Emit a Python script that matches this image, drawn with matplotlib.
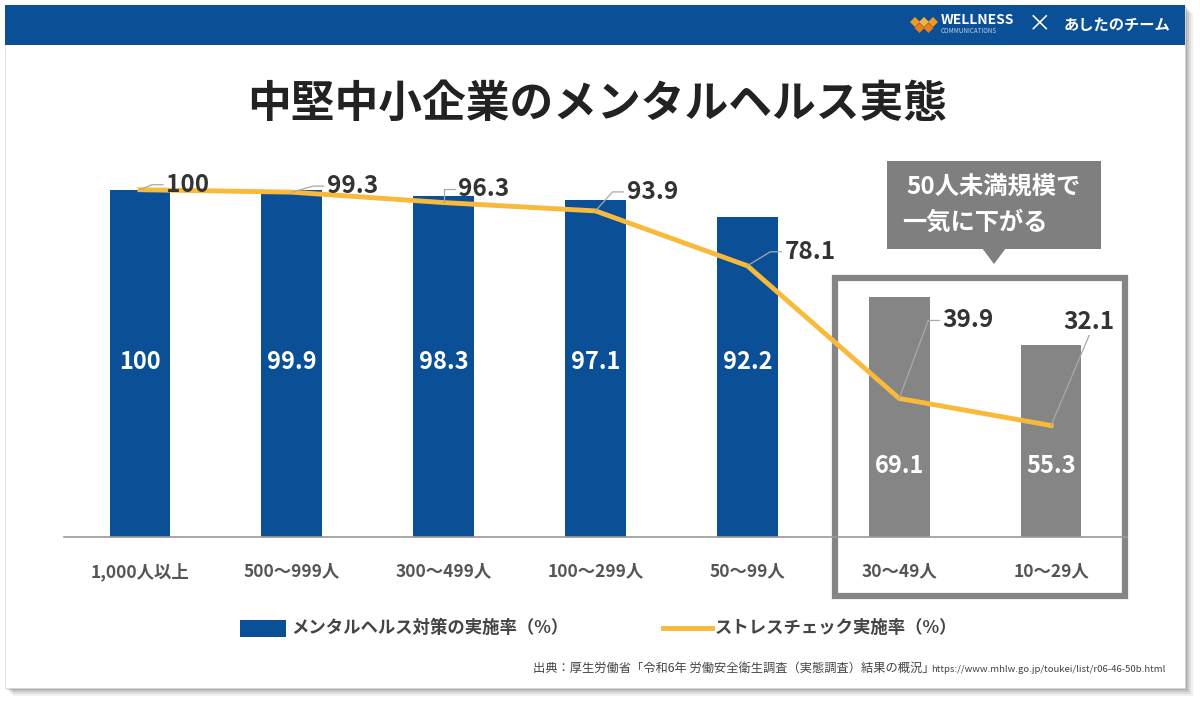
import matplotlib
matplotlib.use("Agg")
import matplotlib.pyplot as plt
from matplotlib.patches import Rectangle, Polygon
from matplotlib.lines import Line2D
from matplotlib.transforms import IdentityTransform

plt.rcParams['font.family'] = ['Noto Sans CJK JP', 'DejaVu Sans']

categories = ['1,000人以上', '500～999人', '300～499人', '100～299人', '50～99人', '30～49人', '10～29人']
mental = [100, 99.9, 98.3, 97.1, 92.2, 69.1, 55.3]
stress = [100, 99.3, 96.3, 93.9, 78.1, 39.9, 32.1]
mental_labels = ['100', '99.9', '98.3', '97.1', '92.2', '69.1', '55.3']
stress_labels = ['100', '99.3', '96.3', '93.9', '78.1', '39.9', '32.1']
n_large = 5  # 50人以上 (blue); the rest are grey

BLUE = '#0b5096'
GRAY = '#858585'
ORANGE = '#f9b93a'
HEADER = '#0b4f96'

W, H = 1200, 704
fig = plt.figure(figsize=(12, 7.04), dpi=100)
fig.patch.set_facecolor('white')

def px(x, y):
    # pixel (top-left origin) -> figure fraction
    return x / W, 1 - y / H

def frect(x0, y0, x1, y1, **kw):
    fx0, fy1 = px(x0, y1)
    r = Rectangle((fx0, fy1), (x1 - x0) / W, (y1 - y0) / H, transform=fig.transFigure, **kw)
    fig.add_artist(r)
    return r

# card shadow + card
for k, a in enumerate([0.06, 0.08, 0.10, 0.14]):
    d = 8 - 2 * k
    frect(5 + d, 5 + d, 1185 + d, 688 + d, facecolor='black', alpha=a, edgecolor='none', zorder=0)
frect(5, 5, 1185, 688, facecolor='white', edgecolor='#d8d8d8', lw=0.5, zorder=1)
frect(5, 5, 1185, 45, facecolor=HEADER, edgecolor='none', zorder=2)

# header logos
for dx, dy, c in [(0, 0, '#f39a1e'), (9, 0, '#f4b43c'), (18, 0, '#f39a1e'), (4.5, 6, '#ee7d18'), (13.5, 6, '#ee7d18')]:
    cx, cy = 915 + dx, 22 + dy
    fig.add_artist(Polygon([px(cx - 5, cy), px(cx, cy - 5), px(cx + 5, cy), px(cx, cy + 5)],
                           closed=True, transform=fig.transFigure, facecolor=c, edgecolor='none', zorder=3))
fig.text(*px(941, 20), 'WELLNESS', fontsize=10, fontweight='bold', color='white', va='center', ha='left', zorder=4)
fig.text(*px(941, 31), 'COMMUNICATIONS', fontsize=4.5, color='#b9d3ee', va='center', ha='left', zorder=4)
fig.text(*px(1040, 25), '×', fontsize=17, color='white', va='center', ha='center', zorder=4)
fig.text(*px(1064, 25), 'あしたのチーム', fontsize=11, fontweight='bold', style='italic',
         color='white', va='center', ha='left', zorder=4)

# title
fig.text(*px(597, 104), '中堅中小企業のメンタルヘルス実態', fontsize=31.5, fontweight='bold',
         color='#222222', ha='center', va='center', zorder=4)

# chart axes: x pixels 64..1127, y pixels 537 (0) .. 155 (110)
ax = fig.add_axes([64 / W, 1 - 537 / H, 1063 / W, 382 / H])
ax.set_xlim(-0.5, 6.5)
ax.set_ylim(0, 110)
ax.set_zorder(5)
ax.patch.set_alpha(0)
for s in ['top', 'right', 'left']:
    ax.spines[s].set_visible(False)
ax.spines['bottom'].set_color('#9a9a9a')
ax.spines['bottom'].set_linewidth(1.2)
ax.set_yticks([])
ax.set_xticks(range(len(categories)))
ax.set_xticklabels(categories, fontsize=12.5, fontweight='bold', color='#555555')
ax.tick_params(axis='x', length=0, pad=18)

xs = list(range(len(categories)))
colors = [BLUE] * n_large + [GRAY] * (len(categories) - n_large)
ax.bar(xs, mental, width=0.4, color=colors, zorder=2)
for i, t in enumerate(mental_labels):
    ly = 50.5 if i < n_large else 20.5
    ax.text(i, ly, t, ha='center', va='center', fontsize=17, fontweight='bold', color='white', zorder=3)

ax.plot(xs, stress, color=ORANGE, lw=3.5, solid_joinstyle='miter', zorder=4)

# grey box around small companies
ax.add_patch(Rectangle((4.58, -17.0), 1.91, 91.5, transform=ax.transData, fill=False,
                       edgecolor=GRAY, lw=4.5, clip_on=False, zorder=1))

# stress labels with leader lines (pixel offsets: text left, up)
offsets = [(26, 5), (35, 6), (14, 14), (31, 19), (37, 14), (43, 78), (12, 104)]
fig.canvas.draw()
for i, t in enumerate(stress_labels):
    x0, y0 = ax.transData.transform((i, stress[i]))
    dx, dy = offsets[i]
    if i == 6:
        lx = [x0, x0 + 38]
        ly = [y0, y0 + dy - 14]
    else:
        lx = [x0, x0 + dx - 14, x0 + dx - 3]
        ly = [y0, y0 + dy, y0 + dy]
    fig.add_artist(Line2D(lx, ly, transform=IdentityTransform(), color='#a9a9a9', lw=0.9, zorder=6))
    fig.text((x0 + dx) / W, (y0 + dy) / H, t, fontsize=17.5, fontweight='bold', color='#333333',
             ha='left', va='center', zorder=7)

# callout
frect(887, 161, 1101, 249, facecolor='#7f7f7f', edgecolor='none', zorder=6)
fig.add_artist(Polygon([px(982, 248), px(1006, 248), px(994, 264)], closed=True,
                       transform=fig.transFigure, facecolor='#7f7f7f', edgecolor='none', zorder=6))
fig.text(*px(994, 188), '50人未満規模で', fontsize=17.5, fontweight='bold', color='white',
         ha='center', va='center', zorder=7)
fig.text(*px(975, 223), '一気に下がる', fontsize=17.5, fontweight='bold', color='white',
         ha='center', va='center', zorder=7)

# legend
frect(240, 620, 286, 637, facecolor=BLUE, edgecolor='none', zorder=4)
fig.text(*px(291, 628), 'メンタルヘルス対策の実施率（%）', fontsize=12.5, fontweight='bold', color='#444444',
         ha='left', va='center', zorder=4)
fig.add_artist(Line2D([663 / W, 712 / W], [1 - 628 / H] * 2, transform=fig.transFigure,
                      color=ORANGE, lw=3.5, zorder=4))
fig.text(*px(715, 628), 'ストレスチェック実施率（%）', fontsize=12.5, fontweight='bold', color='#444444',
         ha='left', va='center', zorder=4)

# source
fig.text(*px(533, 668), '出典：厚生労働省「令和6年 労働安全衛生調査（実態調査）結果の概況」', fontsize=8.8,
         color='#444444', ha='left', va='center', zorder=4)
fig.text(*px(931, 669), 'https://www.mhlw.go.jp/toukei/list/r06-46-50b.html', fontsize=6.9,
         color='#444444', ha='left', va='center', zorder=4)

fig.savefig('out.png', dpi=100)
